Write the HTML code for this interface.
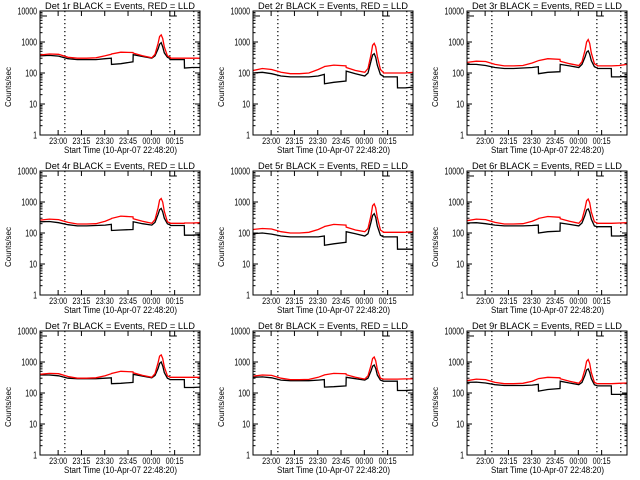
<!DOCTYPE html>
<html><head><meta charset="utf-8">
<style>
html,body{margin:0;padding:0;background:#fff;}
svg{display:block;font-family:"Liberation Sans",sans-serif;}
</style></head>
<body>
<svg id="c" width="640" height="480" viewBox="0 0 640 480"></svg>
<script>
const times = [0,6,12,18,24,30,36,42,45.9,46,52,59.9,60,66,72,74,76,77,78,79,80,82,83.9,84,88,92.9,93,98,103];
const detNames = ["1r","2r","3r","4r","5r","6r","7r","8r","9r"];
const black1 = [360,370,350,290,270,270,270,290,300,190,200,230,390,340,300,360,600,850,950,700,450,320,290,270,270,270,145,150,150];
const red1   = [380,410,400,320,300,300,310,360,400,410,470,460,440,360,310,400,900,1500,1700,1300,700,360,320,300,300,300,300,300,300];
const black2 = [100,105,95,80,75,75,75,80,90,45,50,55,115,95,80,100,250,380,420,320,180,90,78,75,75,75,33,33,35];
const red2   = [120,140,130,105,95,95,100,130,160,162,180,170,150,120,105,140,400,780,900,700,350,130,105,100,100,100,100,100,105];
const black3 = [190,190,175,150,140,140,145,150,160,95,105,110,190,170,150,190,330,470,520,400,250,160,145,140,140,140,75,75,78];
const red3   = [220,240,235,190,170,170,175,210,250,252,290,275,240,200,175,230,550,1000,1200,900,450,200,175,170,170,170,170,175,190];
const black4 = [230,235,215,185,170,170,175,180,190,120,125,130,230,200,180,220,400,560,620,480,300,200,180,175,175,175,85,85,88];
const red4   = [260,280,270,220,195,195,200,240,290,295,350,330,290,240,205,270,650,1150,1300,1000,500,230,210,205,205,205,210,210,215];
const black5 = [95,100,92,80,75,75,75,75,80,40,45,50,110,95,80,95,230,370,420,320,170,85,75,75,75,75,30,30,30];
const red5   = [130,140,135,110,100,100,105,130,160,162,190,180,155,125,110,140,380,760,870,650,320,125,108,105,105,105,105,105,110];
const black6 = [210,215,200,180,170,170,170,175,180,100,110,115,210,190,170,210,380,550,600,460,280,170,160,160,160,160,80,80,82];
const red6   = [250,280,270,220,195,195,200,240,290,295,340,320,290,240,205,270,640,1100,1250,950,480,230,210,205,205,205,205,210,215];
const black7 = [380,380,360,300,290,290,290,300,310,200,205,220,400,350,310,370,620,900,1000,750,460,300,270,270,270,270,150,150,155];
const red7   = [400,430,420,340,300,300,310,360,420,425,500,480,450,370,320,420,950,1550,1700,1300,700,360,320,320,320,320,320,320,320];
const black8 = [320,330,310,260,250,250,250,260,270,155,160,170,320,290,260,300,520,730,800,620,380,260,240,240,240,240,120,120,125];
const red8   = [350,380,370,300,270,270,275,320,380,385,430,420,390,320,280,360,800,1300,1450,1100,580,300,280,280,280,280,280,285,285];
const black9 = [220,225,210,185,175,175,175,180,190,115,130,140,240,210,185,220,380,550,600,460,290,185,170,170,170,170,90,90,92];
const red9   = [250,280,270,220,200,200,205,240,290,292,320,310,290,240,205,270,600,1050,1200,900,460,220,200,200,200,200,200,205,210];
const blackSeries = [black1,black2,black3,black4,black5,black6,black7,black8,black9];
const redSeries = [red1,red2,red3,red4,red5,red6,red7,red8,red9];
const xTickMinutes = [11.67,26.67,41.67,56.67,71.67,86.67];
const xTickLabels = ["23:00","23:15","23:30","23:45","00:00","00:15"];
const yTickValues = [1,10,100,1000,10000];
const yTickLabels = ["1","10","100","1000","10000"];
const dottedMinutes = [16,83.6,99];

const NS="http://www.w3.org/2000/svg";
const svg=document.getElementById('c');
function mk(tag,attrs,parent){const e=document.createElementNS(NS,tag);for(const k in attrs)e.setAttribute(k,attrs[k]);(parent||svg).appendChild(e);return e;}
const colX=[0,213,427], rowY=[0,160,320];
const BW=160, BH=124, BL=40, BT=11, TMAX=103;
for(let p=0;p<9;p++){
  const ox=colX[p%3], oy=rowY[Math.floor(p/3)];
  const g=mk('g',{});
  
  
  const L=ox+BL, T=oy+BT, R=L+BW, B=T+BH;
  const xs=m=>L+m/TMAX*BW;
  const ys=v=>B-(Math.log10(v)/4)*BH;
  const title=mk('text',{x:L+5,y:oy+9,'font-size':'9.5',textLength:'150',lengthAdjust:'spacingAndGlyphs'},g);
  title.textContent='Det '+detNames[p]+' BLACK = Events, RED = LLD';
  
  
  dottedMinutes.forEach(m=>{const l=mk('line',{x1:xs(m),x2:xs(m),y1:T,y2:B,stroke:'#000','stroke-width':'1.2','stroke-dasharray':'1.2,2.8'},g);
    
    });
  mk('polyline',{points:`${L},${T+5} ${L+7},${T+5}`,fill:'none',stroke:'#000','stroke-width':'1'},g);
  mk('polyline',{points:`${xs(83.6)},${T} ${xs(83.6)},${T+5} ${xs(83.6)+7},${T+5}`,fill:'none',stroke:'#000','stroke-width':'1'},g);
  yTickValues.forEach((v,i)=>{const y=ys(v);
    mk('line',{x1:L,x2:L+5,y1:y,y2:y,stroke:'#000'},g);
    mk('line',{x1:R-5,x2:R,y1:y,y2:y,stroke:'#000'},g);
    const lab=yTickLabels[i];
    const t=mk('text',{x:L-3,y:y+3.5,'text-anchor':'end','font-size':'10',textLength:String(lab.length*3.9),lengthAdjust:'spacingAndGlyphs'},g);
    t.textContent=lab;
    
    
    if(i<4){for(let k=2;k<10;k++){const yy=ys(v*k);
      mk('line',{x1:L,x2:L+2.5,y1:yy,y2:yy,stroke:'#000'},g);
      mk('line',{x1:R-2.5,x2:R,y1:yy,y2:yy,stroke:'#000'},g);}}
  });
  xTickMinutes.forEach((m,i)=>{const x=xs(m);
    mk('line',{x1:x,x2:x,y1:B,y2:B-5,stroke:'#000'},g);
    mk('line',{x1:x,x2:x,y1:T,y2:T+5,stroke:'#000'},g);
    const t=mk('text',{x:x-9,y:B+9,'font-size':'9',textLength:'18',lengthAdjust:'spacingAndGlyphs'},g);
    t.textContent=xTickLabels[i];
    
    
  });
  const xl=mk('text',{x:L+24,y:B+18,'font-size':'9.5','textLength':'113',lengthAdjust:'spacingAndGlyphs'},g);
  xl.textContent='Start Time (10-Apr-07 22:48:20)';
  
  
  const yl=mk('text',{x:0,y:0,'text-anchor':'middle','font-size':'8',transform:`translate(${ox+11},${T+BH/2+14}) rotate(-90)`},g);
  yl.textContent='Counts/sec';
  
  
  const pts=arr=>arr.map((v,i)=>xs(times[i]).toFixed(1)+','+ys(v).toFixed(1)).join(' ');
  const bl=mk('polyline',{points:pts(blackSeries[p]),fill:'none',stroke:'#000','stroke-width':'1.3'},g);
  
  
  const rl=mk('polyline',{points:pts(redSeries[p]),fill:'none',stroke:'#f00','stroke-width':'1.3'},g);
  
  
  const box=mk('rect',{x:L,y:T,width:BW,height:BH,fill:'none',stroke:'#000','stroke-width':'1'},g);
  
  
}
</script>
</body></html>
